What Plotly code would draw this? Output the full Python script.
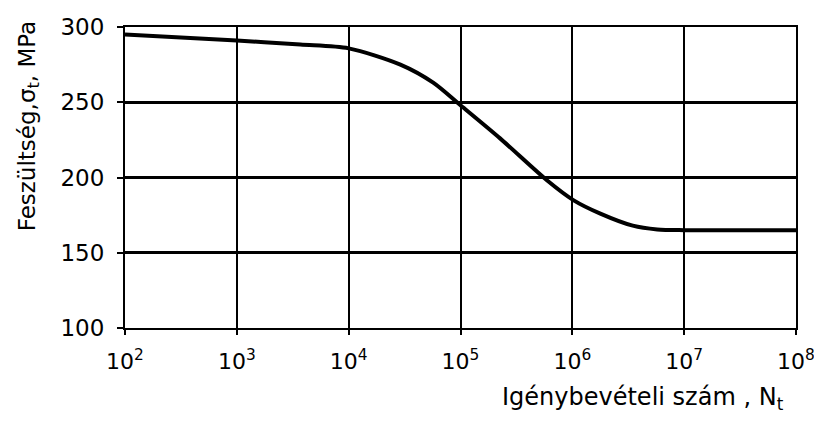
import plotly.graph_objects as go

# Data
cycles = [1e2, 1e3, 3.7e3, 1e4, 2.9e4, 5.7e4, 1e5, 2.26e5, 5.96e5, 1.02e6, 1.78e6, 3.47e6, 5.75e6, 1e7, 1e8]
stress = [295, 291, 288.3, 285.8, 275, 263, 248, 226, 198, 185, 176, 168, 165.5, 165, 165]

xtick_vals = [1e2, 1e3, 1e4, 1e5, 1e6, 1e7, 1e8]
xtick_text = ["10<sup>2</sup>", "10<sup>3</sup>", "10<sup>4</sup>", "10<sup>5</sup>",
              "10<sup>6</sup>", "10<sup>7</sup>", "10<sup>8</sup>"]
ytick_vals = [100, 150, 200, 250, 300]

FONT = "DejaVu Sans"

fig = go.Figure()
fig.add_trace(go.Scatter(
    x=cycles, y=stress, mode="lines",
    line=dict(color="black", width=4, shape="spline", smoothing=0.8),
    showlegend=False, hoverinfo="skip"))

fig.update_layout(
    width=822, height=421,
    margin=dict(l=117, r=34, t=19, b=101),
    paper_bgcolor="white", plot_bgcolor="white",
    font=dict(family=FONT, color="black"),
    xaxis=dict(
        type="log", range=[2, 8], automargin=False,
        tickvals=xtick_vals, ticktext=xtick_text,
        tickfont=dict(size=22, family=FONT),
        showgrid=True, gridcolor="black", gridwidth=1.5,
        showline=True, linecolor="black", linewidth=2, mirror=True,
        ticks="outside", ticklen=5, tickcolor="black", tickwidth=2,
        ticklabelstandoff=8, zeroline=False,
    ),
    yaxis=dict(
        range=[100, 300], automargin=False,
        tickvals=ytick_vals,
        tickfont=dict(size=23, family=FONT),
        showgrid=True, gridcolor="black", gridwidth=2.5,
        showline=True, linecolor="black", linewidth=2, mirror=True,
        ticks="outside", ticklen=6, tickcolor="black", tickwidth=2,
        ticklabelstandoff=8, zeroline=False,
    ),
    annotations=[
        dict(text="Igénybevételi szám , N<sub>t</sub>", xref="paper", yref="paper",
             x=1, y=0, xanchor="right", yanchor="middle", xshift=-10, yshift=-70,
             showarrow=False, font=dict(size=24, family=FONT)),
        dict(text="Feszültség,σ<sub>t</sub>, MPa", xref="paper", yref="paper",
             x=0, y=0.67, xanchor="center", yanchor="middle", xshift=-96,
             textangle=-90, showarrow=False, font=dict(size=23, family=FONT)),
    ],
)

fig.write_html("out.html")
